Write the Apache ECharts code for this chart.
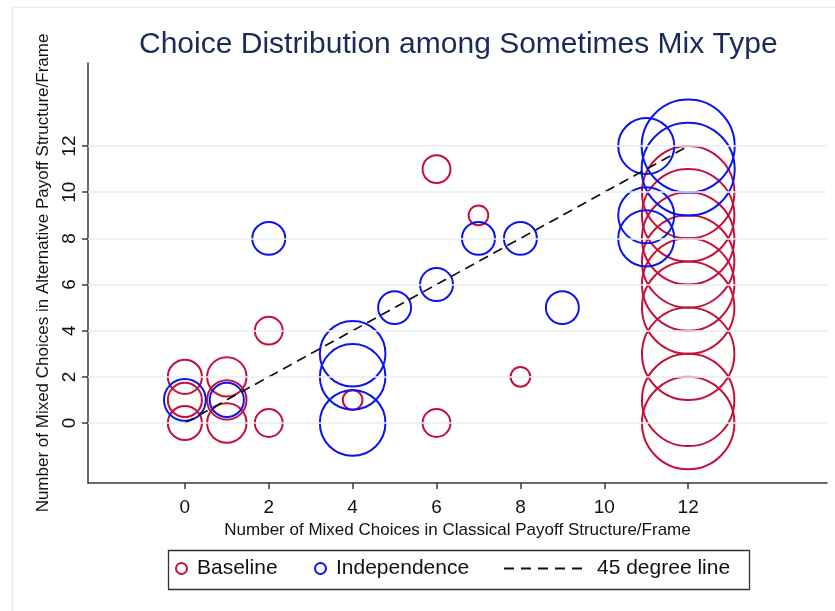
<!DOCTYPE html>
<html><head><meta charset="utf-8">
<script src="https://cdn.jsdelivr.net/npm/echarts@6/dist/echarts.min.js"></script>
<style>html,body{margin:0;padding:0;background:#fff}#c{width:835px;height:611px}</style>
</head><body><div id="c"></div>
<script>
const titleText = 'Choice Distribution among Sometimes Mix Type';
const xTitle = 'Number of Mixed Choices in Classical Payoff Structure/Frame';
const yTitle = 'Number of Mixed Choices in Alternative Payoff Structure/Frame';
const seriesNames = ['Baseline', 'Independence', '45 degree line'];
const xTicks = [0, 2, 4, 6, 8, 10, 12];
const yTicks = [0, 2, 4, 6, 8, 10, 12];
const baselineX = [0, 0, 0, 1, 1, 1, 2, 2, 4, 6, 6, 7, 8, 12, 12, 12, 12, 12, 12, 12, 12, 12];
const baselineY = [0, 1, 2, 0, 1, 2, 0, 4, 1, 0, 11, 9, 2, 0, 1, 3, 5, 6, 7, 8, 9, 10];
const baselineW = [3, 3, 3, 4, 4, 4, 2, 2, 1, 2, 2, 1, 1, 22, 22, 22, 22, 22, 22, 22, 22, 22];
const indepX = [0, 1, 2, 4, 4, 4, 5, 6, 7, 8, 9, 11, 11, 11, 12, 12];
const indepY = [1, 1, 8, 0, 2, 3, 5, 6, 8, 8, 5, 8, 9, 12, 11, 12];
const indepW = [4.5, 3, 2.8, 11.1, 11.1, 11.1, 2.8, 2.8, 2.8, 2.8, 2.8, 8.1, 8.1, 8.1, 22.3, 22.3];
const lineX = [0, 12];
const lineY = [0, 12];

const FONT = "'Liberation Sans', Helvetica, Arial, sans-serif";
const RED = '#C4103A';
const BLUE = '#0A14F0';
const AXIS = '#3a3a3a';
const GRID = '#E8EEF1';

const sizeOf = v => 19.7 * Math.sqrt(v[2]);
const dashIcon = 'path://M0,0h10v1.8h-10z M17,0h10v1.8h-10z M34,0h10v1.8h-10z M51,0h10v1.8h-10z M68,0h10v1.8h-10z';

const chart = echarts.init(document.getElementById('c'), null, {renderer: 'canvas'});
const option = {
  animation: false,
  backgroundColor: '#ffffff',
  textStyle: {fontFamily: FONT},
  title: {
    text: titleText, left: 139, top: 30, padding: 0,
    textStyle: {fontFamily: FONT, fontSize: 30, fontWeight: 'normal', color: '#1B2B58'}
  },
  graphic: [
    {type: 'rect', left: 10, top: 5, shape: {width: 900, height: 700}, silent: true, z: -10,
     style: {fill: 'none', stroke: '#E6EDF0', lineWidth: 1.5}},
    {type: 'rect', left: 166, top: 548, shape: {width: 581, height: 39}, silent: true, z: 1,
     style: {fill: 'none', stroke: '#333333', lineWidth: 1.3}}
  ],
  legend: [
    {data: [seriesNames[0]], left: 175, top: 558, padding: 0, itemWidth: 11, itemHeight: 11,
     textStyle: {fontFamily: FONT, fontSize: 21, color: '#111', padding: [0, 0, 0, 5]}},
    {data: [seriesNames[1]], left: 314, top: 558, padding: 0, itemWidth: 11, itemHeight: 11,
     textStyle: {fontFamily: FONT, fontSize: 21, color: '#111', padding: [0, 0, 0, 5]}},
    {data: [{name: seriesNames[2], icon: dashIcon}], left: 504, top: 558, padding: 0, itemWidth: 78, itemHeight: 2,
     textStyle: {fontFamily: FONT, fontSize: 21, color: '#111', padding: [0, 0, 0, 10]}}
  ],
  grid: {left: 88, right: 8, top: 63, bottom: 128, containLabel: false},
  xAxis: {
    type: 'value', min: -2.31, max: 15.31,
    name: xTitle, nameLocation: 'middle', nameGap: 33,
    nameTextStyle: {fontFamily: FONT, fontSize: 17, color: '#111'},
    axisLine: {show: true, onZero: false, lineStyle: {color: AXIS, width: 1.5}},
    axisTick: {show: true, length: 6, customValues: xTicks, lineStyle: {color: AXIS, width: 1.5}},
    axisLabel: {customValues: xTicks, margin: 15, fontFamily: FONT, fontSize: 19, color: '#111'},
    splitLine: {show: false}
  },
  yAxis: {
    type: 'value', min: -2.6, max: 15.6,
    name: yTitle, nameLocation: 'middle', nameGap: 36, nameRotate: 90,
    nameTextStyle: {fontFamily: FONT, fontSize: 17, color: '#111'},
    axisLine: {show: true, onZero: false, lineStyle: {color: AXIS, width: 1.5}},
    axisTick: {show: true, length: 6, customValues: yTicks, lineStyle: {color: AXIS, width: 1.5}},
    axisLabel: {customValues: yTicks, rotate: 90, margin: 9, fontFamily: FONT, fontSize: 19, color: '#111'},
    splitLine: {show: false}
  },
  series: [
    {
      name: 'grid', type: 'scatter', data: [], silent: true, z: 0,
      markLine: {
        silent: true, symbol: ['none', 'none'], label: {show: false}, animation: false,
        lineStyle: {color: GRID, width: 1.5, type: 'solid'},
        emphasis: {disabled: true},
        data: yTicks.map(v => ({yAxis: v}))
      }
    },
    {
      name: seriesNames[0], type: 'scatter', z: 2,
      data: baselineX.map((x, i) => [x, baselineY[i], baselineW[i]]),
      symbol: 'circle', symbolSize: sizeOf,
      itemStyle: {color: 'rgba(0,0,0,0)', borderColor: RED, borderWidth: 2, opacity: 1},
      emphasis: {disabled: true}
    },
    {
      name: seriesNames[1], type: 'scatter', z: 3,
      data: indepX.map((x, i) => [x, indepY[i], indepW[i]]),
      symbol: 'circle', symbolSize: sizeOf,
      itemStyle: {color: 'rgba(0,0,0,0)', borderColor: BLUE, borderWidth: 2, opacity: 1},
      emphasis: {disabled: true}
    },
    {
      name: seriesNames[2], type: 'line', z: 4,
      data: lineX.map((x, i) => [x, lineY[i]]),
      symbol: 'none', showSymbol: false,
      itemStyle: {color: '#111'},
      lineStyle: {color: '#111', width: 1.7, type: [10, 6]},
      emphasis: {disabled: true}
    }
  ]
};
chart.setOption(option);
</script>
</body></html>
